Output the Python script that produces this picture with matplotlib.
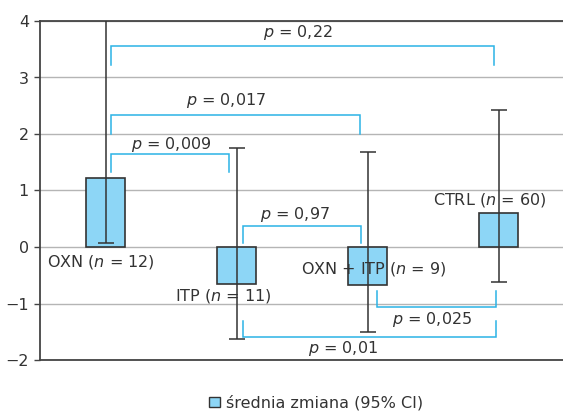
import matplotlib
matplotlib.use("Agg")
import matplotlib.pyplot as plt
from matplotlib.patches import Patch
import numpy as np

# group data: mean change with 95% CI
groups = ["OXN", "ITP", "OXN + ITP", "CTRL"]
n_counts = [12, 11, 9, 60]
means = [1.23, -0.65, -0.68, 0.61]
ci_low = [0.07, -1.62, -1.50, -0.62]
ci_high = [4.2, 1.75, 1.68, 2.42]

# pairwise comparisons (group index a, group index b, p-value text)
comp_pairs = [(0, 3), (0, 2), (0, 1), (1, 2), (2, 3), (1, 3)]
comp_p = ["0,22", "0,017", "0,009", "0,97", "0,025", "0,01"]

# bracket layout: (left offset, right offset, bar y, leg y, text x, text y)
bracket_layout = [
    (0.045, -0.035, 3.56, 3.22, 1.97, 3.80),
    (0.045, -0.055, 2.33, 2.00, 1.42, 2.60),
    (0.045, -0.055, 1.65, 1.32, 1.00, 1.82),
    (0.050, -0.050, 0.37, 0.07, 1.95, 0.57),
    (0.070, -0.020, -1.07, -0.77, 2.99, -1.29),
    (0.050, -0.020, -1.59, -1.31, 2.31, -1.79),
]
# group label positions (x, y, ha)
label_layout = [
    (0.05, -0.27, "left"),
    (1.03, -0.87, "left"),
    (1.99, -0.39, "left"),
    (3.00, 0.83, "left"),
]

BAR_FILL = "#8dd6f6"
BRACKET = "#2bb3e6"
DARK = "#333333"
FS = 11.5

plt.rcParams["font.family"] = ["DejaVu Sans"]
plt.rcParams["mathtext.fontset"] = "dejavusans"

fig = plt.figure(figsize=(5.63, 4.12), dpi=100)
ax = fig.add_axes([40 / 563, 1 - 360 / 412, 524 / 563, 339 / 412])

x = np.arange(len(groups)) + 0.5
means = np.asarray(means)
lo = np.asarray(ci_low)
hi = np.asarray(ci_high)

ax.bar(x, means, width=0.3, color=BAR_FILL, edgecolor=DARK, linewidth=1.2, zorder=3)
ax.errorbar(x, means, yerr=[means - lo, hi - means], fmt="none", ecolor=DARK,
            elinewidth=1.1, capsize=5.5, capthick=1.1, zorder=4)

for (a, b), p, (dl, dr, yb, yl, tx, ty) in zip(comp_pairs, comp_p, bracket_layout):
    x0, x1 = x[a] + dl, x[b] + dr
    ax.plot([x0, x0, x1, x1], [yl, yb, yb, yl], color=BRACKET, lw=1.1,
            zorder=5, solid_joinstyle="miter")
    ax.text(tx, ty, f"$p$ = {p}", ha="center", va="center", fontsize=FS,
            color=DARK, zorder=6)

for g, n, (lx, ly, ha) in zip(groups, n_counts, label_layout):
    ax.text(lx, ly, f"{g} ($n$ = {n})", ha=ha, va="center", fontsize=FS,
            color=DARK, zorder=6)

ax.set_xlim(0, 4)
ax.set_ylim(-2, 4)
ax.set_yticks(range(-2, 5))
ax.set_xticks([])
ax.yaxis.grid(True, color="#b5b5b5", lw=1.0, zorder=0)
ax.set_axisbelow(True)
for side in ["top", "bottom", "left"]:
    ax.spines[side].set_color("#444444")
    ax.spines[side].set_linewidth(1.3)
ax.spines["right"].set_visible(False)
ax.tick_params(axis="y", length=4, width=1.0, color="#444444", labelsize=FS,
               labelcolor=DARK, pad=4)

fig.legend(handles=[Patch(facecolor=BAR_FILL, edgecolor=DARK, lw=1.0,
                          label="średnia zmiana (95% CI)")],
           loc="center", bbox_to_anchor=(0.562, 0.022), frameon=False,
           fontsize=FS, handlelength=0.65, handleheight=0.65, handletextpad=0.4,
           labelcolor=DARK)

fig.savefig("out.png", dpi=100)
